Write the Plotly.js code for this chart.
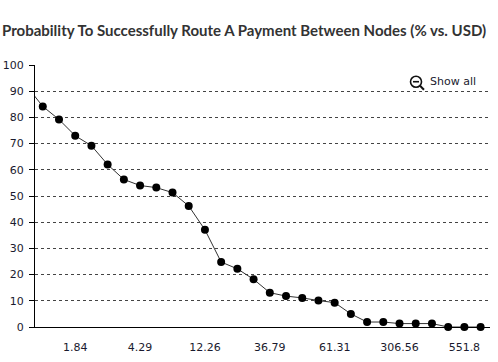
<!DOCTYPE html>
<html>
<head>
<meta charset="utf-8">
<script src="https://cdn.plot.ly/plotly-3.0.1.min.js"></script>
<style>
html,body{margin:0;padding:0;background:#fff;}
#chart{width:498px;height:362px;}
</style>
</head>
<body>
<div id="chart"></div>
<script>
// Payment amounts (USD) — categories
const amountsUSD = ["0.55","0.61","1.23","1.84","2.45","3.07","3.68","4.29","4.90","5.52",
  "6.13","12.26","18.39","24.52","30.66","36.79","42.92","49.05","55.18","61.31",
  "122.62","183.94","245.25","306.56","367.87","429.18","490.50","551.8","613.11"];
// Success probability (%)
const probability = [92,84.2,79.2,73,69.2,62,56.3,54,53.2,51.3,
  46.2,37.1,24.8,22.2,18.2,13.1,11.8,11.1,10.1,9.3,
  5,1.9,1.9,1.3,1.3,1.3,0,0,0];
// Shown tick labels
const tickLabels = ["1.84","4.29","12.26","36.79","61.31","306.56","551.8"];

const lineTrace = {
  x: amountsUSD, y: probability, type: 'scatter', mode: 'lines',
  line: {color: '#333', width: 1}, hoverinfo: 'skip', cliponaxis: true
};
const markerTrace = {
  x: amountsUSD.slice(1), y: probability.slice(1), type: 'scatter', mode: 'markers',
  marker: {color: '#000', size: 8}, cliponaxis: false
};

const layout = {
  width: 498, height: 362,
  margin: {l: 35, r: 8, t: 65, b: 35},
  paper_bgcolor: '#fff', plot_bgcolor: '#fff',
  showlegend: false,
  title: {
    text: 'Probability To Successfully Route A Payment Between Nodes (% vs. USD)',
    font: {family: 'Lato, sans-serif', size: 15, color: '#333', weight: 'bold'},
    xref: 'container', x: 0.004, xanchor: 'left',
    yref: 'container', y: 0.914, yanchor: 'middle'
  },
  xaxis: {
    type: 'category',
    categoryorder: 'array', categoryarray: amountsUSD,
    range: [0.52, 28.58],
    tickmode: 'array', tickvals: tickLabels, ticktext: tickLabels,
    showgrid: false, zeroline: false,
    showline: true, linecolor: '#000', linewidth: 1,
    ticks: '', ticklabelstandoff: 10,
    tickfont: {family: 'DejaVu Sans, Verdana, sans-serif', size: 11, color: '#1a1a2e'}
  },
  yaxis: {
    range: [0, 100], dtick: 10, tick0: 0,
    showgrid: true, gridcolor: '#444', gridwidth: 1, griddash: 'dot',
    zeroline: false,
    showline: true, linecolor: '#000', linewidth: 1,
    ticks: 'outside', ticklen: 5, tickcolor: '#000', tickwidth: 1,
    ticklabelstandoff: 3,
    tickfont: {family: 'DejaVu Sans, Verdana, sans-serif', size: 11, color: '#1a1a2e'}
  },
  annotations: [{
    text: 'Show all', xref: 'paper', yref: 'paper',
    x: 0.864, y: 0.936, xanchor: 'left', yanchor: 'middle', showarrow: false,
    font: {family: 'DejaVu Sans, Verdana, sans-serif', size: 11, color: '#1a1a2e'}
  }],
  shapes: [
    {type: 'circle', xref: 'paper', yref: 'paper', x0: 0.8253, x1: 0.8495, y0: 0.9152, y1: 0.9572,
     line: {color: '#111', width: 1.6}},
    {type: 'line', xref: 'paper', yref: 'paper', x0: 0.8308, x1: 0.8440, y0: 0.9362, y1: 0.9362,
     line: {color: '#111', width: 1.6}},
    {type: 'line', xref: 'paper', yref: 'paper', x0: 0.8462, x1: 0.8549, y0: 0.9209, y1: 0.9056,
     line: {color: '#111', width: 2}}
  ]
};

Plotly.newPlot('chart', [lineTrace, markerTrace], layout, {displayModeBar: false, staticPlot: true});
</script>
</body>
</html>
